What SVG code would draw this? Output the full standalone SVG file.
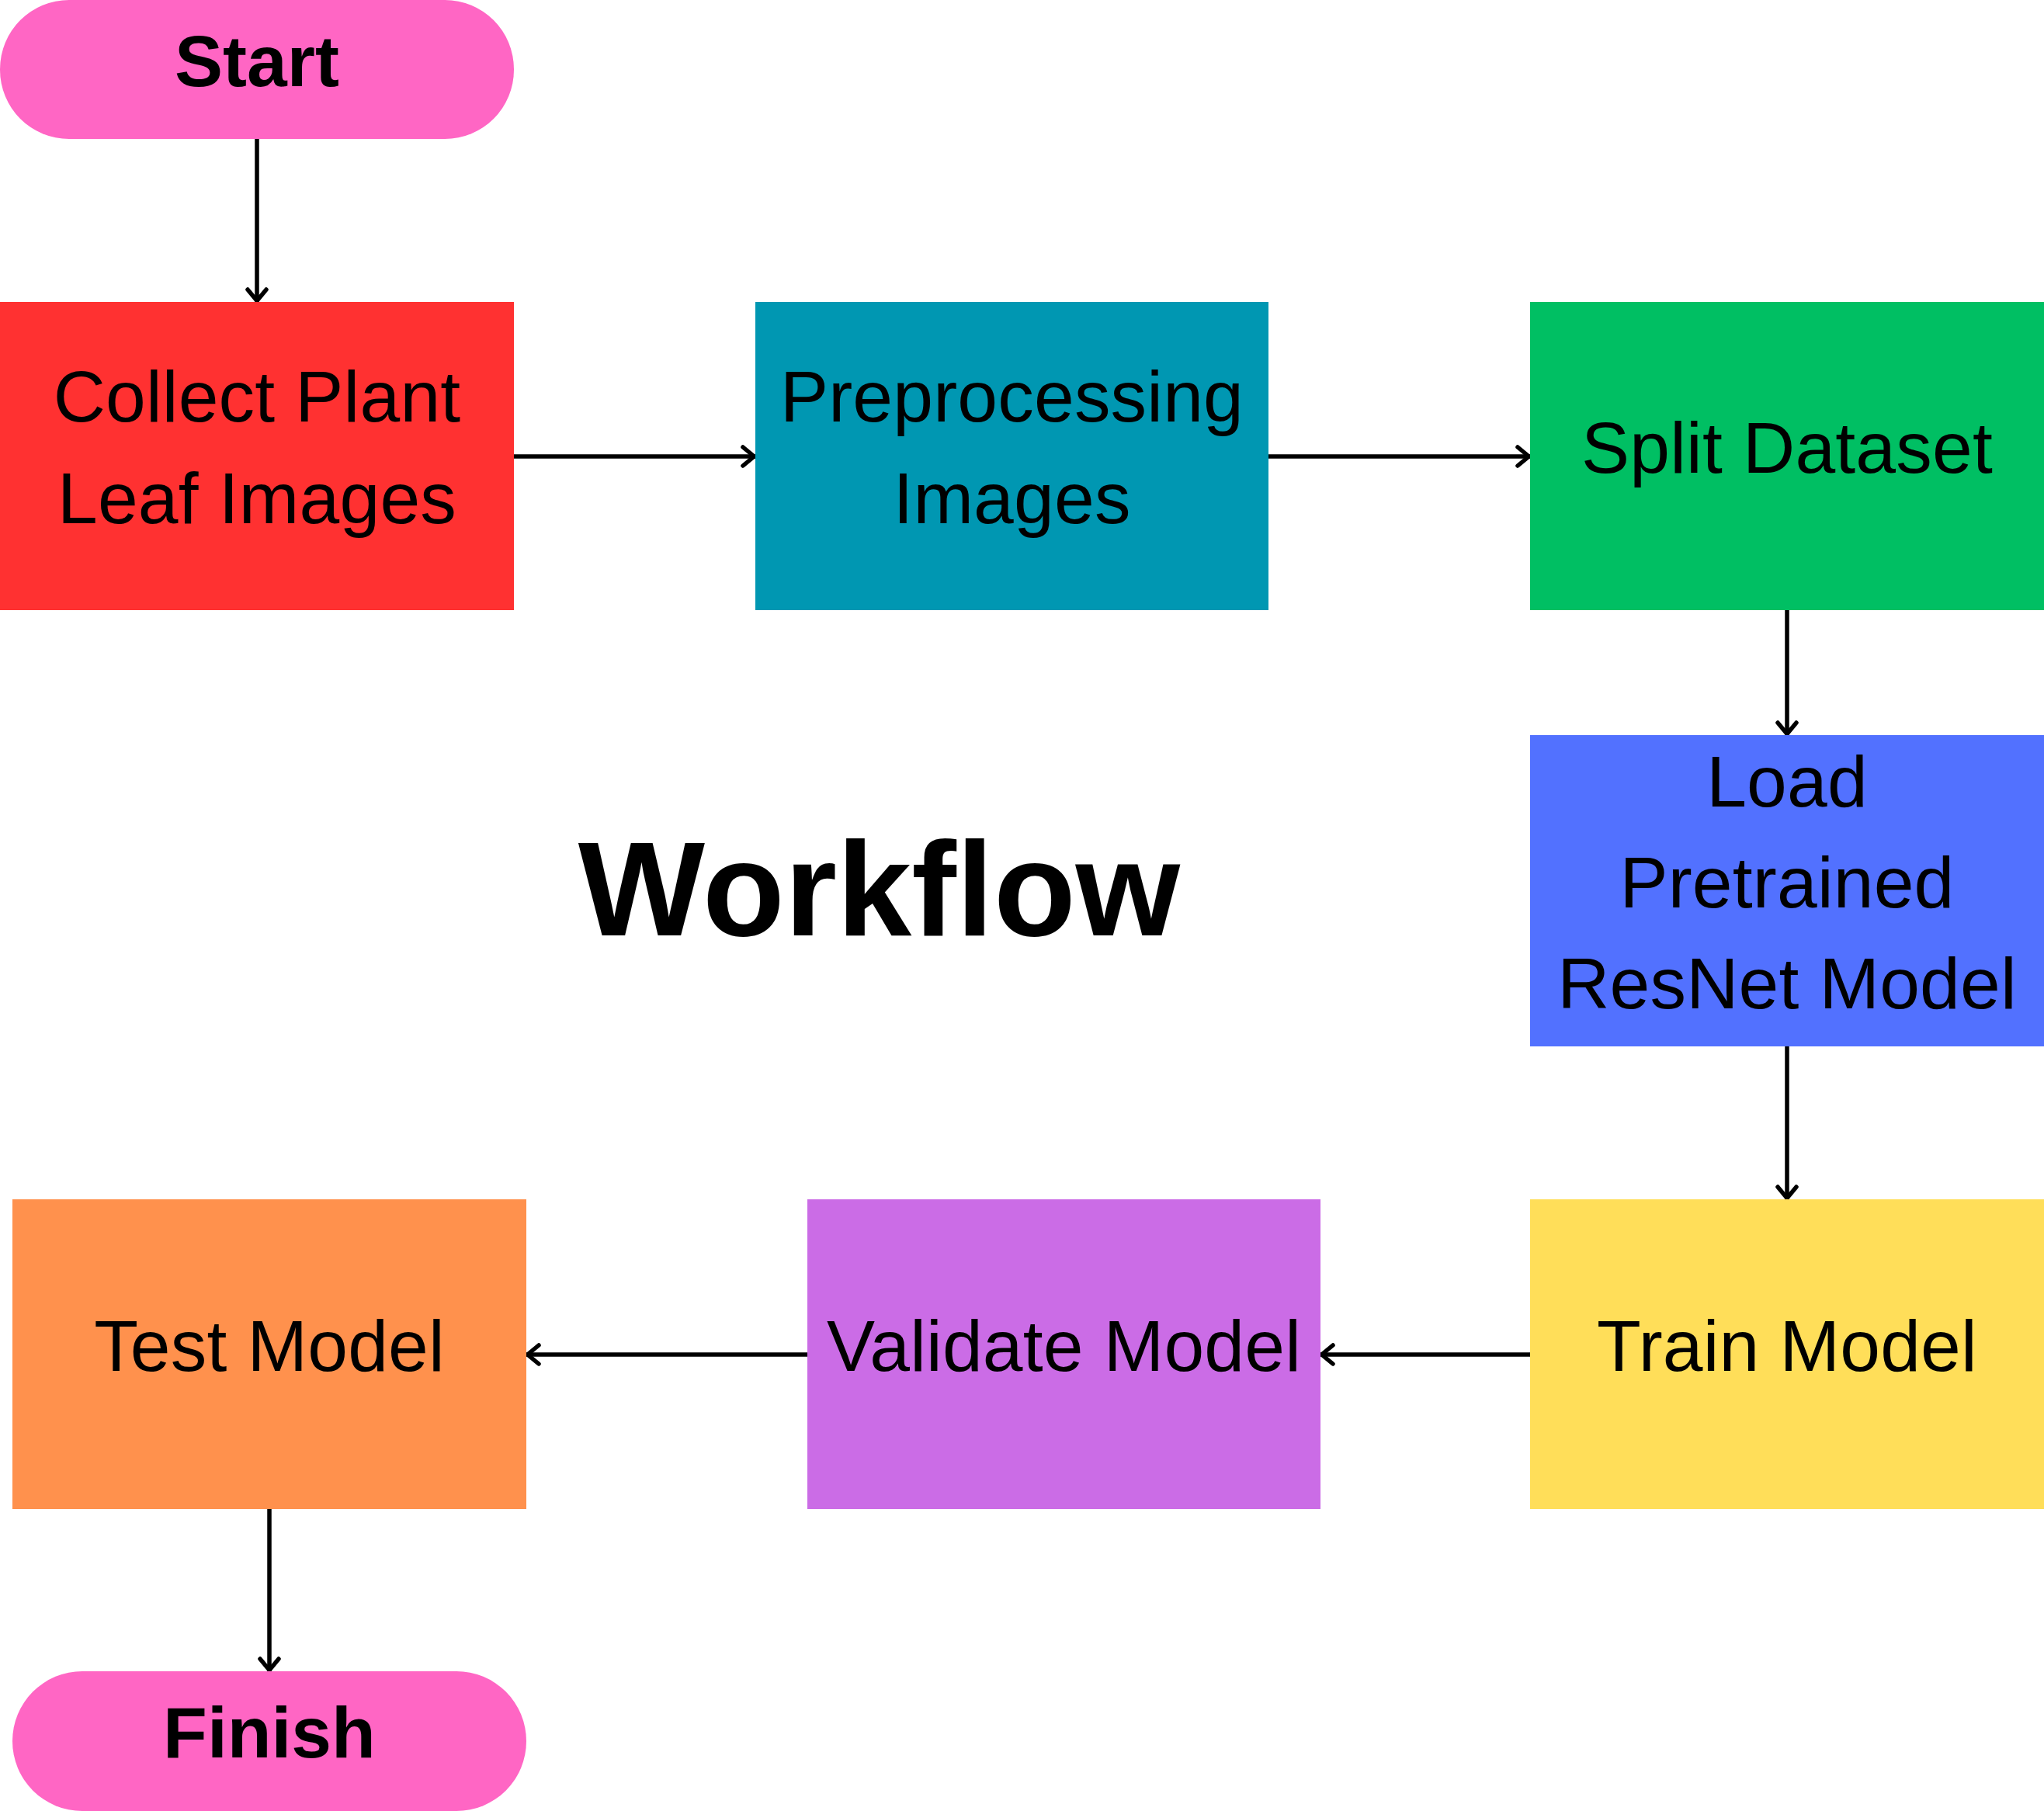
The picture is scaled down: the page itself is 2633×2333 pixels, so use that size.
<svg xmlns="http://www.w3.org/2000/svg" width="2633" height="2333" viewBox="0 0 2633 2333">
<style>
.lbl{font-family:"Liberation Sans",Arial,sans-serif;font-size:93px;letter-spacing:0.2px;fill:#000;text-anchor:middle}
.term{font-family:"Liberation Sans",Arial,sans-serif;font-size:93px;font-weight:bold;fill:#000;text-anchor:middle}
.title{font-family:"Liberation Sans",Arial,sans-serif;font-size:173px;font-weight:bold;fill:#000;text-anchor:middle}
.conn{stroke:#000;stroke-width:5.5;fill:none;marker-end:url(#arr)}
</style>
<defs>
<marker id="arr" markerUnits="userSpaceOnUse" markerWidth="40" markerHeight="40" viewBox="-20 -20 40 40" refX="0" refY="0" orient="auto" overflow="visible">
<path d="M-16,-12 L-1.5,0 L-16,12" fill="none" stroke="#000" stroke-width="5.5" stroke-linecap="round" stroke-linejoin="round"/>
</marker>
</defs>
<rect width="2633" height="2333" fill="#fff"/>
<g id="connectors">
<line class="conn" x1="331" y1="179" x2="331" y2="389"/>
<line class="conn" x1="662" y1="588" x2="973" y2="588"/>
<line class="conn" x1="1634" y1="588" x2="1971" y2="588"/>
<line class="conn" x1="2302" y1="786" x2="2302" y2="947"/>
<line class="conn" x1="2302" y1="1348" x2="2302" y2="1545"/>
<line class="conn" x1="1971" y1="1745" x2="1701" y2="1745"/>
<line class="conn" x1="1040" y1="1745" x2="678" y2="1745"/>
<line class="conn" x1="347" y1="1944" x2="347" y2="2153"/>
</g>
<g id="start">
<rect x="0" y="0" width="662" height="179" rx="89" ry="89" fill="#FF66C4"/>
<text class="term" x="331" y="111">Start</text>
</g>
<g id="collect">
<rect x="0" y="389" width="662" height="397" fill="#FF3131"/>
<text class="lbl" x="331" y="543">Collect Plant</text>
<text class="lbl" x="331" y="674">Leaf Images</text>
</g>
<g id="preprocess">
<rect x="973" y="389" width="661" height="397" fill="#0097B2"/>
<text class="lbl" x="1303.5" y="543">Preprocessing</text>
<text class="lbl" x="1303.5" y="674">Images</text>
</g>
<g id="split">
<rect x="1971" y="389" width="662" height="397" fill="#00BF63"/>
<text class="lbl" x="2302" y="609">Split Dataset</text>
</g>
<g id="load">
<rect x="1971" y="947" width="662" height="401" fill="#5271FF"/>
<text class="lbl" x="2302" y="1039">Load</text>
<text class="lbl" x="2302" y="1169">Pretrained</text>
<text class="lbl" x="2302" y="1299">ResNet Model</text>
</g>
<g id="train">
<rect x="1971" y="1545" width="662" height="399" fill="#FFDE59"/>
<text class="lbl" x="2302" y="1766">Train Model</text>
</g>
<g id="validate">
<rect x="1040" y="1545" width="661" height="399" fill="#CB6CE6"/>
<text class="lbl" x="1370.5" y="1766">Validate Model</text>
</g>
<g id="test">
<rect x="16" y="1545" width="662" height="399" fill="#FF914D"/>
<text class="lbl" x="347" y="1766">Test Model</text>
</g>
<g id="finish">
<rect x="16" y="2153" width="662" height="180" rx="90" ry="90" fill="#FF66C4"/>
<text class="term" x="347" y="2264">Finish</text>
</g>
<g id="title">
<text class="title" x="1132.5" y="1205">Workflow</text>
</g>
</svg>
